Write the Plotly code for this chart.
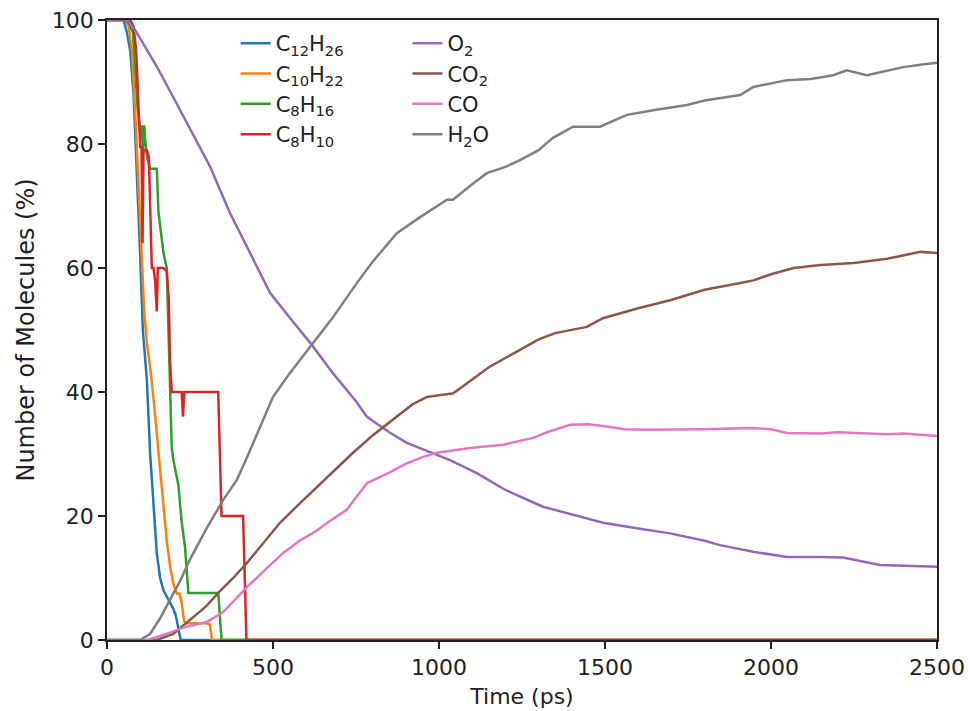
import plotly.graph_objects as go

# ---------------- data ----------------
t_c12h26 = [0, 50, 60, 70, 80, 90, 100, 108, 115, 120, 130, 140, 150, 160, 170, 180, 190, 200, 207, 215, 222, 2500]
v_c12h26 = [100, 100, 98, 95, 88, 76, 62, 50, 46, 42, 30, 21, 14, 10, 8, 7, 6, 5, 4, 2, 0, 0]

t_c10h22 = [0, 55, 65, 75, 85, 95, 105, 112, 120, 130, 140, 150, 160, 170, 180, 190, 200, 210, 218, 225, 232, 240, 300, 310, 316, 2500]
v_c10h22 = [100, 100, 99, 95, 85, 74, 62, 53, 48, 44, 39, 33, 27, 21, 16, 12, 9, 7.5, 7.5, 6, 3, 2.7, 2.7, 2.5, 0, 0]

t_c8h16 = [0, 60, 70, 78, 85, 92, 100, 105, 108, 112, 116, 120, 125, 130, 139, 150, 155, 160, 165, 170, 180, 184, 190, 195, 200, 215, 220, 225, 235, 240, 245, 335, 340, 345, 2500]
v_c8h16 = [100, 100, 99, 98, 92, 86, 82, 83, 79, 83, 80, 78, 77, 76, 76, 76, 69, 67, 64.5, 62.5, 60, 51, 38, 31, 29, 25, 22, 19, 15, 11, 7.6, 7.6, 4, 0, 0]

t_c8h10 = [0, 70, 80, 88, 95, 100, 104, 107, 110, 114, 120, 126, 130, 135, 140, 145, 150, 153, 156, 160, 170, 180, 186, 190, 195, 225, 229, 233, 335, 340, 345, 410, 415, 420, 2500]
v_c8h10 = [100, 100, 99, 95, 86, 79.5, 79.5, 64, 79, 79, 79, 78, 70, 60, 60, 58, 53, 60, 60, 60, 60, 59.5, 55, 45, 40, 40, 36, 40, 40, 30, 20, 20, 10, 0, 0]

t_o2 = [0, 60, 78, 100, 150, 200, 250, 310, 370, 420, 491, 550, 617, 681, 750, 783, 850, 903, 950, 1033, 1114, 1200, 1313, 1400, 1494, 1600, 1696, 1800, 1846, 1950, 2048, 2150, 2217, 2328, 2420, 2500]
v_o2 = [100, 100, 99, 97, 92.5, 87.5, 82.5, 76.4, 68.9, 63.5, 56, 52, 47.6, 43, 38.5, 36, 33.5, 31.8, 30.8, 29, 26.9, 24.2, 21.5, 20.3, 18.9, 18, 17.2, 16, 15.3, 14.2, 13.4, 13.4, 13.3, 12.1, 12, 11.8]

t_co2 = [0, 150, 200, 250, 300, 335, 380, 421, 470, 521, 580, 633, 690, 741, 800, 861, 920, 964, 1000, 1043, 1100, 1150, 1244, 1300, 1350, 1445, 1494, 1600, 1696, 1800, 1900, 1947, 2000, 2068, 2150, 2249, 2350, 2450, 2500]
v_co2 = [0, 0, 1, 3.2, 5.5, 7.6, 10, 12.4, 15.5, 18.9, 22, 24.7, 27.5, 30.2, 33, 35.5, 38, 39.2, 39.5, 39.8, 42, 44, 46.8, 48.5, 49.5, 50.5, 51.9, 53.5, 54.8, 56.5, 57.5, 58, 59, 60, 60.5, 60.8, 61.5, 62.6, 62.4]

t_co = [0, 120, 139, 180, 229, 300, 350, 421, 480, 530, 580, 633, 680, 722, 750, 783, 850, 903, 950, 994, 1100, 1194, 1284, 1325, 1395, 1450, 1494, 1560, 1626, 1700, 1800, 1947, 2000, 2048, 2150, 2200, 2349, 2400, 2500]
v_co = [0, 0, 0.3, 1, 2, 2.9, 4.5, 8.5, 11.5, 14, 16, 17.7, 19.5, 21, 23, 25.3, 27, 28.5, 29.5, 30.2, 31, 31.5, 32.6, 33.5, 34.7, 34.8, 34.5, 34, 33.9, 33.9, 34, 34.2, 34, 33.4, 33.3, 33.5, 33.2, 33.3, 32.9]

t_h2o = [0, 100, 130, 160, 190, 220, 250, 300, 350, 391, 430, 470, 500, 550, 621, 680, 753, 800, 873, 943, 1024, 1042, 1100, 1144, 1200, 1244, 1300, 1343, 1404, 1485, 1566, 1650, 1747, 1800, 1907, 1947, 2048, 2120, 2187, 2228, 2289, 2350, 2398, 2450, 2500]
v_h2o = [0, 0, 1, 3.5, 6.5, 9.5, 13, 18, 22.6, 25.8, 30.5, 35.5, 39.2, 43, 47.9, 52, 57.6, 61, 65.6, 68.2, 71, 71, 73.5, 75.3, 76.3, 77.4, 79, 81, 82.8, 82.8, 84.7, 85.5, 86.3, 87, 87.9, 89.2, 90.3, 90.5, 91.1, 91.9, 91.1, 91.8, 92.4, 92.8, 93.1]

series = [
    ("C<sub>12</sub>H<sub>26</sub>", t_c12h26, v_c12h26, "#1f77b4", "legend"),
    ("C<sub>10</sub>H<sub>22</sub>", t_c10h22, v_c10h22, "#ff7f0e", "legend"),
    ("C<sub>8</sub>H<sub>16</sub>", t_c8h16, v_c8h16, "#2ca02c", "legend"),
    ("C<sub>8</sub>H<sub>10</sub>", t_c8h10, v_c8h10, "#d62728", "legend"),
    ("O<sub>2</sub>", t_o2, v_o2, "#9467bd", "legend2"),
    ("CO<sub>2</sub>", t_co2, v_co2, "#8c564b", "legend2"),
    ("CO", t_co, v_co, "#e377c2", "legend2"),
    ("H<sub>2</sub>O", t_h2o, v_h2o, "#7f7f7f", "legend2"),
]

x_ticks = [0, 500, 1000, 1500, 2000, 2500]
y_ticks = [0, 20, 40, 60, 80, 100]

fig = go.Figure()
for name, t, v, color, leg in series:
    fig.add_trace(go.Scatter(x=t, y=v, mode="lines", name=name,
                             line=dict(color=color, width=2.5), legend=leg))

FONT = "DejaVu Sans"
INK = "#222"
axis_common = dict(showline=True, linecolor=INK, linewidth=1.5, mirror=True,
                   ticks="outside", ticklen=7, tickwidth=1.5, tickcolor=INK,
                   showgrid=False, zeroline=False,
                   tickfont=dict(family=FONT, size=22, color=INK))

fig.update_layout(
    width=970, height=711,
    margin=dict(l=107, r=33, t=20, b=71, autoexpand=False),
    paper_bgcolor="white", plot_bgcolor="white",
    font=dict(family=FONT, size=21, color=INK),
    xaxis=dict(range=[0, 2500], tickvals=x_ticks, automargin=False,
               title=dict(text="Time (ps)", font=dict(family=FONT, size=22), standoff=9),
               **axis_common),
    yaxis=dict(range=[0, 100], tickvals=y_ticks, automargin=False,
               title=dict(text="Number of Molecules (%)", font=dict(family=FONT, size=24), standoff=10),
               **axis_common),
    legend=dict(x=0.155, y=0.995, xanchor="left", yanchor="top",
                bgcolor="rgba(0,0,0,0)", borderwidth=0,
                font=dict(family=FONT, size=21, color=INK), tracegroupgap=0),
    legend2=dict(x=0.362, y=0.995, xanchor="left", yanchor="top",
                 bgcolor="rgba(0,0,0,0)", borderwidth=0,
                 font=dict(family=FONT, size=21, color=INK), tracegroupgap=0),
)

fig.write_html("out.html", config={"displayModeBar": False},
               post_script="document.body.style.margin='0';document.body.style.overflow='hidden';")
